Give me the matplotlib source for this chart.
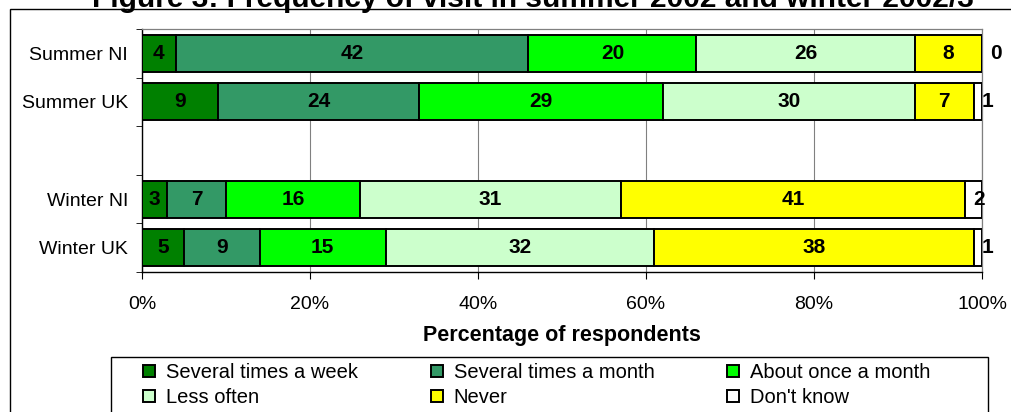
import matplotlib
matplotlib.use("Agg")
import matplotlib.pyplot as plt
from matplotlib.patches import Rectangle
import numpy as np

plt.rcParams['font.family'] = ['Liberation Sans', 'DejaVu Sans']

title = "Figure 3: Frequency of visit in summer 2002 and winter 2002/3"
categories = ["Summer NI", "Summer UK", "Winter NI", "Winter UK"]
series_names = ["Several times a week", "Several times a month", "About once a month",
                "Less often", "Never", "Don't know"]
several_week = [4, 9, 3, 5]
several_month = [42, 24, 7, 9]
once_month = [20, 29, 16, 15]
less_often = [26, 30, 31, 32]
never = [8, 7, 41, 38]
dont_know = [0, 1, 2, 1]
x_ticks = [0, 20, 40, 60, 80, 100]
x_tick_labels = ["0%", "20%", "40%", "60%", "80%", "100%"]
x_label = "Percentage of respondents"
colors = ["#008000", "#339966", "#00FF00", "#CCFFCC", "#FFFF00", "#FFFFFF"]

series = [several_week, several_month, once_month, less_often, never, dont_know]

W, H = 1011, 412
fig = plt.figure(figsize=(W / 100, H / 100), dpi=100)
ax = fig.add_axes([142 / W, 1 - 272 / H, 840 / W, 243 / H])

# summer rows, blank slot, winter rows
y_pos = [0, 1, 3, 4]
left = np.zeros(len(categories))
handles = []
for name, vals, col in zip(series_names, series, colors):
    b = ax.barh(y_pos, vals, left=left, height=0.76, color=col, edgecolor='black',
                linewidth=1.4, label=name, zorder=3)
    handles.append(b)
    for y, v, l in zip(y_pos, vals, left):
        if name == "Don't know":
            ax.annotate(str(v), xy=(l, y), xytext=(6, 0), textcoords='offset points',
                        ha='left', va='center', fontsize=15, weight='bold',
                        annotation_clip=False, zorder=5)
        else:
            ax.text(l + v / 2, y, str(v), ha='center', va='center', fontsize=15,
                    weight='bold', zorder=5)
    left = left + np.array(vals)

ax.set_xlim(0, 100)
ax.set_ylim(4.5, -0.5)
ax.set_xticks(x_ticks)
ax.set_xticklabels(x_tick_labels, fontsize=14)
ax.tick_params(axis='x', direction='out', length=5, pad=12, color='black')
ax.set_yticks(y_pos)
ax.set_yticklabels(categories, fontsize=14)
ax.tick_params(axis='y', which='major', length=0, pad=10)
ax.set_yticks(np.arange(-0.5, 5.0, 1.0), minor=True)
ax.tick_params(axis='y', which='minor', length=4, direction='out', color='black')
ax.set_xlabel(x_label, fontsize=15.5, weight='bold', labelpad=9)

ax.set_axisbelow(True)
ax.xaxis.grid(True, color='#808080', linewidth=0.8)
for s in ['top', 'right']:
    ax.spines[s].set_color('#808080')
    ax.spines[s].set_linewidth(0.9)
for s in ['left', 'bottom']:
    ax.spines[s].set_color('black')
    ax.spines[s].set_linewidth(1.0)

# chart area border
fig.add_artist(Rectangle((10 / W, -0.1), 1.2, 1 - 9 / H + 0.1, transform=fig.transFigure,
                         fill=False, edgecolor='black', linewidth=1.0, clip_on=False))

fig.text(533 / W, 1 - 7 / H, title, ha='center', va='baseline', fontsize=21.5, weight='bold')

# legend (row-wise order)
order = [0, 3, 1, 4, 2, 5]
leg = fig.legend([handles[i] for i in order], [series_names[i] for i in order], ncol=3,
                 loc='upper left', bbox_to_anchor=(143 / W, 1 - 363 / H), frameon=False,
                 fontsize=14.5, borderpad=0, borderaxespad=0, handlelength=0.6,
                 handleheight=0.6, handletextpad=0.55, labelspacing=0.3, columnspacing=3.6)
fig.add_artist(Rectangle((111 / W, -0.1), 877 / W, 1 - 357 / H + 0.1, transform=fig.transFigure,
                         fill=False, edgecolor='black', linewidth=1.0, clip_on=False))

fig.savefig("out.png", dpi=100)
